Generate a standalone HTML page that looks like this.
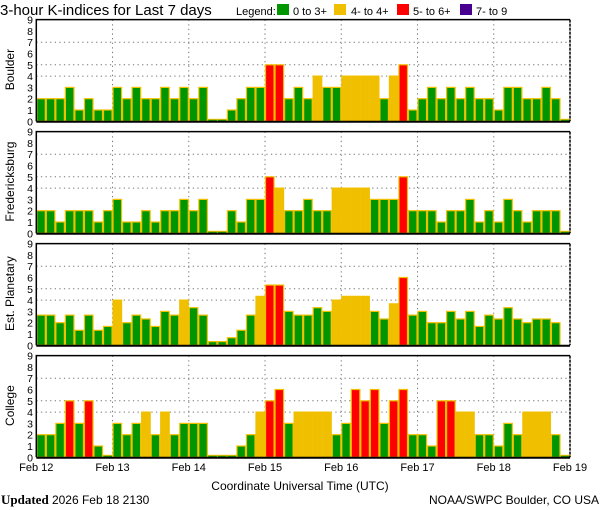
<!DOCTYPE html>
<html><head><meta charset="utf-8">
<style>
html,body{margin:0;padding:0;background:#fff;}
svg{display:block;font-family:"Liberation Sans","DejaVu Sans",sans-serif;}
</style></head>
<body>
<svg id="chart" width="600" height="510" viewBox="0 0 600 510" xmlns="http://www.w3.org/2000/svg">
<text x="0" y="15" font-size="15" fill="#000">3-hour K-indices for Last 7 days</text>
<g font-size="11" fill="#000">
<text x="236" y="15">Legend:</text>
<rect x="277" y="4" width="12" height="11" fill="#009600"/>
<text x="293" y="15">0 to 3+</text>
<rect x="334" y="4" width="12" height="11" fill="#f0c000"/>
<text x="351" y="15">4- to 4+</text>
<rect x="397" y="4" width="12" height="11" fill="#ff0000"/>
<text x="413" y="15">5- to 6+</text>
<rect x="460" y="4" width="12" height="11" fill="#480090"/>
<text x="476" y="15">7- to 9</text>
</g>
<g id="panels"></g>
<text x="300" y="490" font-size="12" text-anchor="middle">Coordinate Universal Time (UTC)</text>
<text x="1" y="504" font-size="13" font-family="Liberation Serif,serif"><tspan font-weight="bold">Updated</tspan> <tspan font-family="Liberation Sans,sans-serif" font-size="12">2026 Feb 18 2130</tspan></text>
<text x="599" y="504" font-size="12" text-anchor="end">NOAA/SWPC Boulder, CO USA</text>
</svg>
<script>
const dayLabels = ["Feb 12","Feb 13","Feb 14","Feb 15","Feb 16","Feb 17","Feb 18","Feb 19"];
const yTicks = [0,1,2,3,4,5,6,7,8,9];
const gridLevels = [4,5,7];
const stationNames = ["Boulder","Fredericksburg","Est. Planetary","College"];
const boulder = [2,2,2,3,1,2,1,1, 3,2,3,2,2,3,2,3, 2,3,0,0,1,2,3,3, 5,5,2,3,2,4,3,3, 4,4,4,4,2,4,5,1, 2,3,2,3,2,3,2,2, 1,3,3,2,2,3,2,0];
const fredericksburg = [2,2,1,2,2,2,1,2, 3,1,1,2,1,2,2,3, 2,3,0,0,2,1,3,3, 5,4,2,2,3,2,2,4, 4,4,4,3,3,3,5,2, 2,2,1,2,2,3,1,2, 1,3,2,1,2,2,2,0];
const planetary = [2.67,2.67,2,2.67,1.33,2.67,1.33,1.67, 4,2,2.67,2.33,1.67,3,2.67,4, 3.33,2.67,0.33,0.33,0.67,1.33,2.67,4.33, 5.33,5.33,3,2.67,2.67,3.33,3,4, 4.33,4.33,4.33,3,2.33,3.67,6,2.67, 3,2,2,3,2.33,3,1.67,2.67, 2.33,3.33,2.33,2,2.33,2.33,2,null];
const college = [2,2,3,5,3,5,1,0, 3,2,3,4,2,4,2,3, 3,3,0,0,0,1,2,4, 5,6,3,4,4,4,4,2, 3,6,5,6,3,5,6,2, 2,1,5,5,4,4,2,2, 1,3,2,4,4,4,2,0];
const series = [boulder, fredericksburg, planetary, college];

const NS="http://www.w3.org/2000/svg";
const X0=36.3, X1=570, NB=56, unit=11.3;
const tops=[19.6,131.6,243.6,355.6];
const bw=(X1-X0)/NB;
const xScale=i=>X0+i*bw;
const dayX=d=>X0+d*(X1-X0)/7;
function color(v){return v>=6.67?"#480090":v>=4.67?"#ff0000":v>=3.67?"#f0c000":"#009600";}
function mk(tag,attrs,parent){const e=document.createElementNS(NS,tag);for(const k in attrs)e.setAttribute(k,attrs[k]);parent.appendChild(e);return e;}
const root=document.getElementById("panels");
series.forEach((vals,p)=>{
  const top=tops[p], base=top+9*unit;
  const yScale=v=>base-v*unit;
  const g=mk("g",{},root);
  
  
  gridLevels.forEach(l=>{const ln=mk("line",{x1:X0,x2:X1,y1:yScale(l),y2:yScale(l),stroke:"#777","stroke-dasharray":"1.3,3.3","stroke-width":1},g);
    
    });
  for(let d=1;d<7;d++){const ln=mk("line",{x1:dayX(d),x2:dayX(d),y1:top,y2:base,stroke:"#777","stroke-dasharray":"1.3,3.3","stroke-width":1},g);
    
    }
  vals.forEach((v,i)=>{
    if(v===null) return;
    const x=xScale(i);
    if(v===0){const r=mk("rect",{x:x,y:base-2,width:bw,height:2,fill:"#009600",stroke:"#f0c000","stroke-width":1},g);
      
      return;}
    const r=mk("rect",{x:x+0.5,y:yScale(v),width:bw-1,height:v*unit,fill:color(v),stroke:"#f0c000","stroke-width":1.2},g);
    
    
  });
  const b=mk("path",{d:`M${X0},${base} L${X0},${top} L${X1},${top}`,fill:"none",stroke:"#000","stroke-width":1.5},g);
  
  
  const rb=mk("line",{x1:X1,x2:X1,y1:top,y2:base,stroke:"#000","stroke-width":1.5,"stroke-dasharray":"3,1"},g);
  
  
  const ax=mk("line",{x1:X0,x2:X1,y1:base+0.5,y2:base+0.5,stroke:"#000","stroke-width":2},g);
  
  
  yTicks.forEach(t=>{const tx=mk("text",{x:33,y:yScale(t)+4,"font-size":10.5,"text-anchor":"end"},g);tx.textContent=t;
    
    });
  const lbl=mk("text",{x:0,y:0,"font-size":12,"text-anchor":"middle",transform:`translate(14,${top+50}) rotate(-90)`},g);
  lbl.textContent=stationNames[p];
  
  
});
dayLabels.forEach((d,i)=>{const t=mk("text",{x:dayX(i),y:471,"font-size":11,"text-anchor":"middle"},root);t.textContent=d;
  
  });
</script>
</body></html>
